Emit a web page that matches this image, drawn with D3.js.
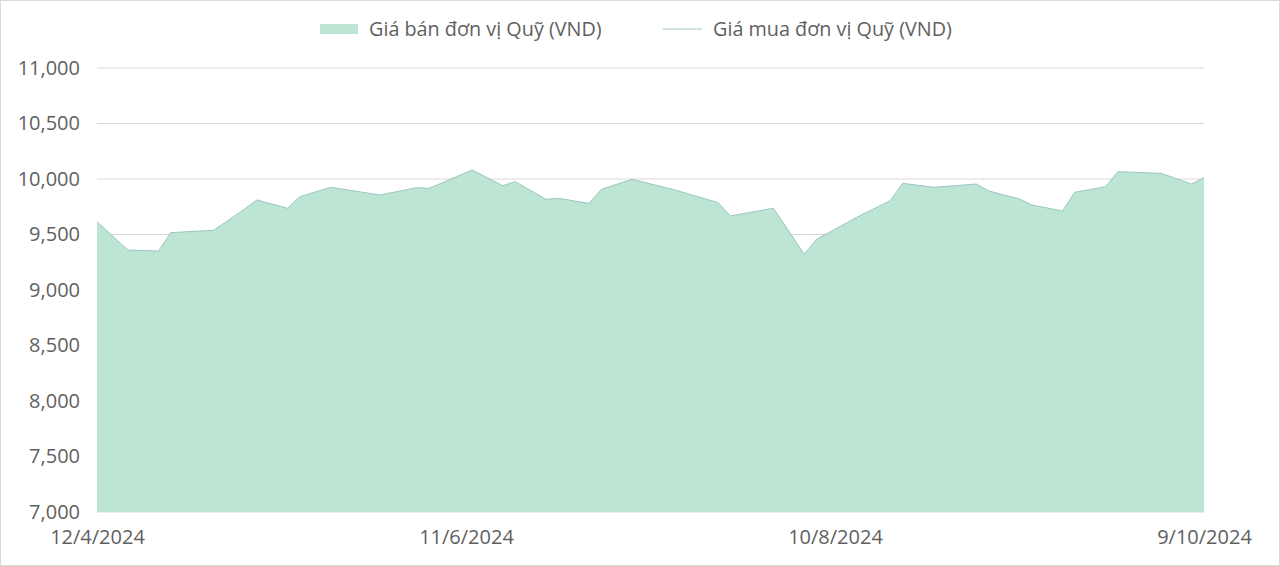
<!DOCTYPE html>
<html>
<head>
<meta charset="utf-8">
<script src="https://cdn.jsdelivr.net/npm/d3@7/dist/d3.min.js"></script>
<style>
  html, body { margin: 0; padding: 0; background: #fff; }
  svg { display: block; font-family: "Open Sans", sans-serif; }
</style>
</head>
<body>
<div id="chart"></div>
<script>
(function () {
  "use strict";

  const dates = [
    "2024-04-12", "2024-04-17", "2024-04-22", "2024-04-24", "2024-05-01",
    "2024-05-06", "2024-05-08", "2024-05-13", "2024-05-15", "2024-05-20",
    "2024-05-28", "2024-06-03", "2024-06-05", "2024-06-12", "2024-06-17",
    "2024-06-19", "2024-06-24", "2024-06-26", "2024-07-01", "2024-07-03",
    "2024-07-08", "2024-07-15", "2024-07-22", "2024-07-24", "2024-07-31",
    "2024-08-05", "2024-08-07", "2024-08-14", "2024-08-19", "2024-08-21",
    "2024-08-26", "2024-09-02", "2024-09-04", "2024-09-09", "2024-09-11",
    "2024-09-16", "2024-09-18", "2024-09-23", "2024-09-25", "2024-10-02",
    "2024-10-07", "2024-10-09"
  ];
  const sellPrice = [
    9615, 9360, 9351, 9517, 9538,
    9730, 9811, 9736, 9841, 9925,
    9856, 9922, 9916, 10081, 9940,
    9976, 9817, 9826, 9781, 9907,
    9997, 9901, 9787, 9668, 9736,
    9322, 9457, 9668, 9805, 9961,
    9925, 9955, 9892, 9820, 9766,
    9712, 9880, 9931, 10066, 10051,
    9955, 10012
  ];
  const buyPrice = sellPrice.slice();
  const yTicks = [7000, 7500, 8000, 8500, 9000, 9500, 10000, 10500, 11000];
  const xTicks = ["2024-04-12", "2024-06-11", "2024-08-10", "2024-10-09"];
  const seriesNames = ["Giá bán đơn vị Quỹ (VND)", "Giá mua đơn vị Quỹ (VND)"];

  const W = 1280, H = 566;
  const M = { left: 97, right: 76, top: 68, bottom: 54 };
  const parse = d3.timeParse("%Y-%m-%d");
  const fmt = d => `${d.getDate()}/${d.getMonth() + 1}/${d.getFullYear()}`;

  const rows = dates.map((d, i) => ({ date: parse(d), sell: sellPrice[i], buy: buyPrice[i] }));

  const svg = d3.select("#chart").append("svg")
    .attr("width", W).attr("height", H);

  svg.append("rect")
    .attr("x", 0.5).attr("y", 0.5).attr("width", W - 1).attr("height", H - 1)
    .attr("fill", "#fff").attr("stroke", "#d9d9d9");

  const x = d3.scaleTime()
    .domain([parse(xTicks[0]), parse(xTicks[xTicks.length - 1])])
    .range([M.left, W - M.right]);
  const y = d3.scaleLinear()
    .domain([7000, 11000])
    .range([H - M.bottom, M.top]);

  // gridlines
  svg.append("g")
    .selectAll("line")
    .data(yTicks)
    .enter().append("line")
    .attr("x1", M.left).attr("x2", W - M.right)
    .attr("y1", d => y(d)).attr("y2", d => y(d))
    .attr("stroke", "#d9d9d9").attr("stroke-width", 1);

  // area (sell)
  const area = d3.area()
    .x(d => x(d.date)).y0(y(7000)).y1(d => y(d.sell));
  svg.append("path").datum(rows)
    .attr("d", area).attr("fill", "#bde5d3");

  // line (buy)
  const line = d3.line().x(d => x(d.date)).y(d => y(d.buy));
  svg.append("path").datum(rows)
    .attr("d", line).attr("fill", "none")
    .attr("stroke", "#9cc6c4").attr("stroke-width", 1);

  // y axis
  const yAxis = d3.axisLeft(y).tickValues(yTicks).tickSize(0).tickPadding(17)
    .tickFormat(d3.format(","));
  const gy = svg.append("g").attr("transform", `translate(${M.left},0)`).call(yAxis);
  gy.select(".domain").remove();
  gy.selectAll("text").attr("font-size", 20).attr("fill", "#5f5f5f")
    .attr("font-family", "'Open Sans', sans-serif");

  // x axis
  const xAxis = d3.axisBottom(x).tickValues(xTicks.map(parse)).tickSize(0).tickPadding(18)
    .tickFormat(fmt);
  const gx = svg.append("g").attr("transform", `translate(0,${H - M.bottom})`).call(xAxis);
  gx.select(".domain").remove();
  gx.selectAll("text").attr("font-size", 20).attr("fill", "#5f5f5f")
    .attr("font-family", "'Open Sans', sans-serif");

  // legend
  const lg = svg.append("g");
  lg.append("rect").attr("x", 320).attr("y", 24).attr("width", 38).attr("height", 10)
    .attr("fill", "#bde5d3");
  lg.append("text").attr("x", 369).attr("y", 29).attr("dy", "0.35em")
    .attr("font-size", 19.8).attr("fill", "#5f5f5f").text(seriesNames[0]);
  lg.append("line").attr("x1", 663).attr("x2", 702).attr("y1", 29).attr("y2", 29)
    .attr("stroke", "#9cc6c4").attr("stroke-width", 1);
  lg.append("text").attr("x", 713).attr("y", 29).attr("dy", "0.35em")
    .attr("font-size", 19.8).attr("fill", "#5f5f5f").text(seriesNames[1]);
})();
</script>
</body>
</html>
